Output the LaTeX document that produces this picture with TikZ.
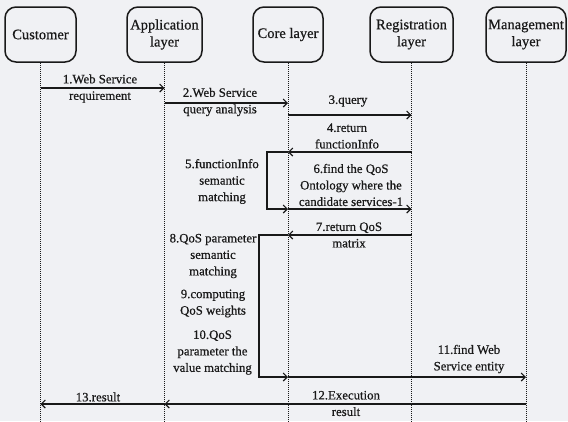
\documentclass[tikz,border=0pt]{standalone}
\usepackage{fontspec}
\setmainfont[FakeBold=0.6]{Liberation Serif}
\usetikzlibrary{arrows.meta}
\definecolor{bg}{RGB}{240,241,244}
\definecolor{ink}{RGB}{25,25,25}
\begin{document}
\begin{tikzpicture}[x=1pt,y=-1pt,
  head/.style={draw=ink, line width=1.5pt, rounded corners=11pt, minimum height=55pt, align=center, inner sep=1pt, text=ink, font=\fontsize{14.5}{17}\selectfont},
  life/.style={draw=ink, line width=0.8pt, dash pattern=on 1pt off 1pt},
  msg/.style={draw=ink, line width=1.1pt, -{Straight Barb[length=4pt,width=8pt]}},
  lbl/.style={align=center, text=ink, font=\fontsize{12.8}{16.5}\selectfont, inner sep=0pt}
]
\fill[bg] (0,0) rectangle (568,421);
\useasboundingbox (0,0) rectangle (568,421);

\node[head, minimum width=71pt] (cust) at (40.5,34.5) {Customer};
\node[head, minimum width=75pt] (app) at (164.5,34.5) {Application\\layer};
\node[head, minimum width=70pt] (core) at (288,34.5) {Core layer};
\node[head, minimum width=83pt] (reg) at (411.5,34.5) {Registration\\layer};
\node[head, minimum width=80pt] (mgmt) at (526,34.5) {Management\\layer};

\foreach \n in {cust,app,core,reg,mgmt}{
  \coordinate (\n-end) at (\n.south |- 0,421);
  \draw[life] (\n.south) -- (\n-end);
}

% message end points
\coordinate (c1) at (cust.south |- 0,88);
\coordinate (a1) at (app.south |- 0,88);
\coordinate (a2) at (app.south |- 0,103);
\coordinate (k2) at (core.south |- 0,103);
\coordinate (k3) at (core.south |- 0,115);
\coordinate (r3) at (reg.south |- 0,115);
\coordinate (r4) at (reg.south |- 0,152);
\coordinate (k4) at (core.south |- 0,152);
\coordinate (l5) at (267,152);
\coordinate (k6) at (core.south |- 0,209);
\coordinate (r6) at (reg.south |- 0,209);
\coordinate (r7) at (reg.south |- 0,235);
\coordinate (k7) at (core.south |- 0,235);
\coordinate (l8) at (259,235);
\coordinate (k11) at (core.south |- 0,377);
\coordinate (m11) at (mgmt.south |- 0,377);
\coordinate (m12) at (mgmt.south |- 0,404);
\coordinate (a12) at (app.south |- 0,404);
\coordinate (c13) at (cust.south |- 0,404);

\draw[msg] (c1) -- (a1);
\draw[msg] (a2) -- (k2);
\draw[msg] (k3) -- (r3);
\draw[msg] (r4) -- (k4);
\draw[msg] (k4) -- (l5) |- (k6);
\draw[msg] (k6) -- (r6);
\draw[msg] (r7) -- (k7);
\draw[msg] (k7) -- (l8) |- (k11);
\draw[msg] (k11) -- (m11);
\draw[msg] (m12) -- (a12);
\draw[msg] (a12) -- (c13);

\node[lbl] (t1) at (100,88.5) {1.Web Service\\requirement};
\node[lbl] (t2) at (220,102) {2.Web Service\\query analysis};
\node[lbl] (t3) at (348,101) {3.query};
\node[lbl] (t4) at (347,136) {4.return\\functionInfo};
\node[lbl] (t5) at (222,181.5) {5.functionInfo\\semantic\\matching};
\node[lbl] (t6) at (351,185) {6.find the QoS\\Ontology where the\\candidate services-1};
\node[lbl] (t7) at (349,235) {7.return QoS\\matrix};
\node[lbl] (t8) at (213,256) {8.QoS parameter\\semantic\\matching};
\node[lbl] (t9) at (213,303.5) {9.computing\\QoS weights};
\node[lbl] (t10) at (212.5,352.5) {10.QoS\\parameter the\\value matching};
\node[lbl] (t11) at (469,359) {11.find Web\\Service entity};
\node[lbl] (t12) at (346,403.5) {12.Execution\\result};
\node[lbl] (t13) at (98,397) {13.result};
\end{tikzpicture}
\end{document}
